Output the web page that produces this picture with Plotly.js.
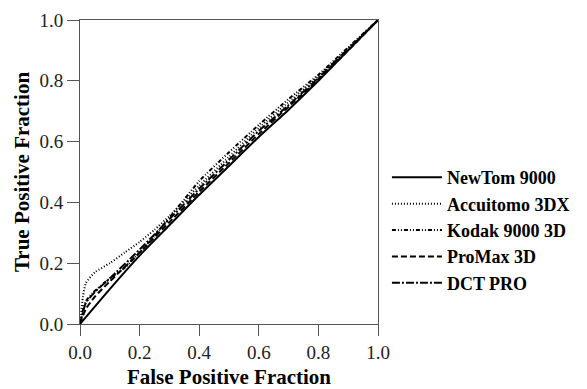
<!DOCTYPE html>
<html><head><meta charset="utf-8">
<script src="https://cdn.plot.ly/plotly-3.0.1.min.js"></script>
<style>html,body{margin:0;padding:0;background:#fff;}#chart{width:587px;height:389px;}</style>
</head><body><div id="chart"></div>
<script>
const seriesNames = ["NewTom 9000", "Accuitomo 3DX", "Kodak 9000 3D", "ProMax 3D", "DCT PRO"];

const newtomX = [0, 0.1, 0.2, 0.3, 0.4, 0.5, 0.6, 0.7, 0.8, 0.9, 1];
const newtomY = [0, 0.115, 0.225, 0.325, 0.425, 0.52, 0.615, 0.705, 0.80, 0.90, 1];

const accuitomoX = [0, 0.01, 0.02, 0.05, 0.1, 0.15, 0.2, 0.25, 0.3, 0.35, 0.4, 0.5, 0.6, 0.7, 0.8, 0.9, 1];
const accuitomoY = [0, 0.09, 0.135, 0.17, 0.2, 0.235, 0.27, 0.31, 0.355, 0.405, 0.455, 0.55, 0.645, 0.73, 0.815, 0.905, 1];

const kodakX = [0, 0.017, 0.04, 0.1, 0.15, 0.2, 0.25, 0.3, 0.35, 0.4, 0.5, 0.6, 0.7, 0.8, 0.9, 1];
const kodakY = [0, 0.07, 0.1, 0.15, 0.185, 0.235, 0.29, 0.35, 0.41, 0.47, 0.565, 0.655, 0.74, 0.82, 0.91, 1];

const promaxX = [0, 0.02, 0.05, 0.1, 0.2, 0.3, 0.4, 0.5, 0.6, 0.7, 0.8, 0.9, 1];
const promaxY = [0, 0.05, 0.09, 0.14, 0.235, 0.335, 0.435, 0.53, 0.625, 0.715, 0.805, 0.9, 1];

const dctX = [0, 0.02, 0.05, 0.1, 0.2, 0.3, 0.4, 0.5, 0.6, 0.7, 0.8, 0.9, 1];
const dctY = [0, 0.07, 0.105, 0.15, 0.245, 0.345, 0.445, 0.54, 0.635, 0.72, 0.81, 0.905, 1];

const tickVals = [0, 0.2, 0.4, 0.6, 0.8, 1.0];
const tickText = ["0.0", "0.2", "0.4", "0.6", "0.8", "1.0"];

const xs = [newtomX, accuitomoX, kodakX, promaxX, dctX];
const ys = [newtomY, accuitomoY, kodakY, promaxY, dctY];
const dashes = ["solid", "1px,2px", "4px,2px,1px,2px,1px,2px", "6px,3px", "8px,2px,2px,2px"];

const traces = seriesNames.map((n, i) => ({
  x: xs[i], y: ys[i], name: n, type: "scatter", mode: "lines",
  line: {color: "#000", width: 2, dash: dashes[i], shape: "spline", smoothing: 0.6}
}));

const serif = "Liberation Serif, Times New Roman, serif";
const layout = {
  width: 587, height: 389,
  margin: {l: 80, r: 207, t: 20, b: 65},
  paper_bgcolor: "#fff", plot_bgcolor: "#fff",
  showlegend: true,
  legend: {x: 1.03, y: 0.309, xanchor: "left", yanchor: "middle",
    font: {family: serif, size: 18, color: "#000", weight: "bold"},
    bgcolor: "rgba(0,0,0,0)", tracegroupgap: 0, itemwidth: 50},
  xaxis: {range: [0, 1], tickvals: tickVals, ticktext: tickText,
    showgrid: false, zeroline: false, showline: true, mirror: true,
    linecolor: "#555", linewidth: 1, ticks: "outside", ticklen: 11, tickcolor: "#555",
    tickfont: {family: serif, size: 19, color: "#222"},
    title: {text: "False Positive Fraction", standoff: 8,
      font: {family: serif, size: 21, color: "#000", weight: "bold"}}},
  yaxis: {range: [0, 1], tickvals: tickVals, ticktext: tickText,
    showgrid: false, zeroline: false, showline: true, mirror: true,
    linecolor: "#555", linewidth: 1, ticks: "outside", ticklen: 12, tickcolor: "#555",
    tickfont: {family: serif, size: 19, color: "#222"},
    title: {text: "True Positive Fraction", standoff: 4,
      font: {family: serif, size: 21, color: "#000", weight: "bold"}}}
};
Plotly.newPlot("chart", traces, layout, {displayModeBar: false, staticPlot: true});
</script></body></html>
